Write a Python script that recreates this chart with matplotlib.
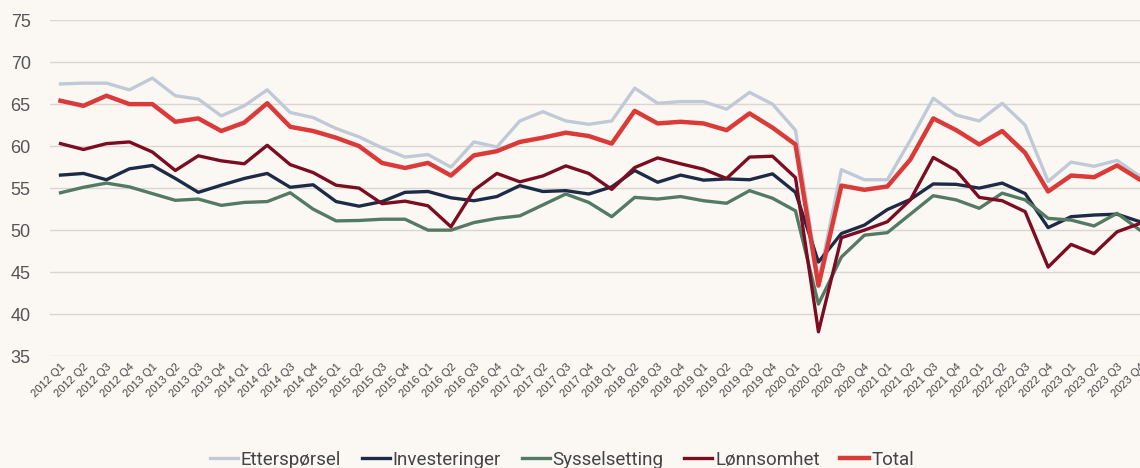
import matplotlib
matplotlib.use("Agg")
import matplotlib.pyplot as plt

# quarters 2012 Q1 .. 2023 Q4
years = list(range(2012, 2024))
quarters = [f"{y} Q{q}" for y in years for q in range(1, 5)]

ettersporsel = [67.4, 67.5, 67.5, 66.7, 68.1, 66.0, 65.6, 63.6, 64.8, 66.7, 64.0, 63.4,
                62.1, 61.1, 59.8, 58.7, 59.0, 57.5, 60.5, 59.9, 63.0, 64.1, 63.0, 62.6,
                63.0, 66.9, 65.1, 65.3, 65.3, 64.4, 66.4, 65.0, 61.9, 44.0, 57.2, 56.0,
                56.0, 60.7, 65.7, 63.7, 63.0, 65.1, 62.5, 55.8, 58.1, 57.6, 58.3, 56.4]
investeringer = [56.55, 56.75, 56.0, 57.3, 57.7, 56.15, 54.5, 55.35, 56.15, 56.75, 55.1, 55.4,
                 53.4, 52.85, 53.4, 54.5, 54.6, 53.85, 53.5, 54.0, 55.3, 54.6, 54.7, 54.3,
                 55.15, 57.1, 55.7, 56.55, 55.95, 56.1, 56.0, 56.7, 54.5, 46.2, 49.6, 50.6,
                 52.45, 53.65, 55.5, 55.45, 55.0, 55.6, 54.35, 50.3, 51.6, 51.8, 51.9, 51.0]
sysselsetting = [54.45, 55.1, 55.6, 55.15, 54.35, 53.55, 53.7, 52.95, 53.3, 53.4, 54.45, 52.5,
                 51.1, 51.15, 51.3, 51.3, 50.0, 50.0, 50.9, 51.4, 51.7, 53.0, 54.3, 53.3,
                 51.6, 53.9, 53.7, 54.0, 53.5, 53.2, 54.7, 53.8, 52.3, 41.2, 46.8, 49.4,
                 49.7, 51.9, 54.1, 53.6, 52.6, 54.4, 53.6, 51.4, 51.2, 50.5, 52.0, 50.0]
lonnsomhet = [60.3, 59.6, 60.3, 60.5, 59.3, 57.1, 58.85, 58.25, 57.9, 60.1, 57.8, 56.85,
              55.35, 55.0, 53.15, 53.45, 52.9, 50.4, 54.75, 56.75, 55.75, 56.45, 57.65, 56.75,
              54.85, 57.45, 58.6, 57.9, 57.25, 56.15, 58.7, 58.8, 56.25, 37.9, 49.1, 50.0,
              51.0, 53.6, 58.65, 57.1, 53.9, 53.5, 52.2, 45.6, 48.3, 47.2, 49.8, 50.8]
total = [65.4, 64.8, 66.0, 65.0, 65.0, 62.9, 63.3, 61.8, 62.8, 65.1, 62.3, 61.8,
         61.0, 60.0, 58.0, 57.4, 58.0, 56.5, 58.9, 59.4, 60.5, 61.0, 61.6, 61.2,
         60.3, 64.2, 62.7, 62.9, 62.7, 61.9, 63.9, 62.2, 60.2, 43.4, 55.3, 54.8,
         55.2, 58.4, 63.3, 61.9, 60.2, 61.8, 59.2, 54.6, 56.5, 56.3, 57.7, 56.0]

bg = "#fbf8f4"
fig = plt.figure(figsize=(11.4, 4.68), dpi=100, facecolor=bg)
ax = fig.add_axes([0.044, 0.239, 0.956, 0.718], facecolor=bg)

x = list(range(len(quarters)))
ax.plot(x, ettersporsel, color="#c0c9d7", lw=2.4, label="Etterspørsel")
ax.plot(x, investeringer, color="#1e2b47", lw=2.4, label="Investeringer")
ax.plot(x, sysselsetting, color="#557a63", lw=2.4, label="Sysselsetting")
ax.plot(x, lonnsomhet, color="#7b0c22", lw=2.4, label="Lønnsomhet")
ax.plot(x, total, color="#da3a38", lw=3.2, label="Total")

ax.set_ylim(35, 75)
ax.set_yticks(range(35, 80, 5))
ax.set_xlim(-0.45, 47.0)
ax.set_xticks(x)
ax.set_xticklabels(quarters, rotation=45, ha="right", rotation_mode="anchor",
                   fontsize=8, color="#444444", family="Liberation Sans")
ax.tick_params(axis="x", length=0, pad=4)
ax.tick_params(axis="y", length=0, pad=14, labelsize=13, labelcolor="#555555")
for lab in ax.get_yticklabels():
    lab.set_family("Liberation Sans")

ax.grid(axis="y", color="#d9d6d0", lw=1)
ax.set_axisbelow(True)
for s in ax.spines.values():
    s.set_visible(False)

fig.legend(loc="center", bbox_to_anchor=(0.493, 0.018), ncol=5, frameon=False,
           prop={"family": "Roboto", "size": 13.5}, labelcolor="#444444",
           handlelength=1.5, handletextpad=0.15, columnspacing=1.1)

fig.savefig("out.png", dpi=100, facecolor=bg)
